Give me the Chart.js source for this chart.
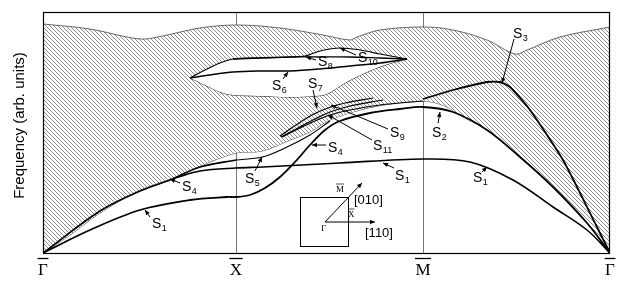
<!DOCTYPE html>
<html><head><meta charset="utf-8">
<script src="https://cdn.jsdelivr.net/npm/chart.js@4.4.1/dist/chart.umd.min.js"></script>
<style>html,body{margin:0;padding:0;background:#fff}#wrap{width:629px;height:287px;position:relative}</style>
</head><body><div id="wrap"><canvas id="c"></canvas></div>
<script>
// High-symmetry points along the k-path
const kPoints = [0, 193, 380, 567];
const kLabels = ['Γ', 'X', 'M', 'Γ'];
const yTitle = 'Frequency (arb. units)';

// Bulk continuum (hatched) boundaries
const bulkTopK = [0, 47, 84, 102, 124, 157, 193, 237, 280, 307, 314, 337, 380, 410, 444, 472, 484, 517, 567];
const bulkTopF = [229, 224, 216, 214, 218, 225, 228, 225, 218, 213, 216, 223, 226, 223, 213, 199, 203, 216, 226];
const bulkLowK = [0, 27, 57, 97, 127, 157, 193, 219, 247, 267, 287, 317, 347, 380, 402, 420, 444, 477, 510, 544, 567];
const bulkLowF = [0, 18, 40, 63, 74, 87, 100, 102, 113, 121, 133, 143, 149, 152, 147, 136, 123, 96, 66, 30, 0];

// Gap inside the continuum (white lens)
const gapTopK = [147, 162, 177, 190, 217, 247, 262, 277, 297, 317, 337, 364];
const gapTopF = [175, 183, 190, 194, 195, 196, 197, 202, 205, 203, 199, 194];
const gapLowK = [147, 162, 177, 190, 217, 247, 272, 284, 302, 322, 342, 364];
const gapLowF = [175, 168, 161, 158, 157, 156, 157, 159, 170, 180, 188, 194];

// Surface modes
const s6K = [147, 167, 190, 217, 247, 277, 307, 337, 364];
const s6F = [175, 178, 181, 182, 182, 184, 187, 190, 194];
const s8K = [190, 247, 277, 307, 337, 364];
const s8F = [194, 196, 196, 196, 195, 194];
const s7K = [237, 253, 269, 285, 302, 330];
const s7F = [117, 128, 138, 145, 150, 155];
const s9K = [238, 255, 272, 287, 307, 340];
const s9F = [116, 125, 134, 141, 147, 153];
const s11K = [239, 257, 272, 287, 307, 337, 380];
const s11F = [116, 125, 132, 138, 143, 148, 152];
const s4K = [0, 57, 97, 127, 157, 193];
const s4F = [0, 42, 62, 73, 86, 93];
const s5K = [193, 219, 242, 267, 287];
const s5F = [93, 96, 105, 118, 132];
const s1K = [132, 157, 193, 220, 297, 380, 427, 470, 510, 544, 567];
const s1F = [75, 82, 85, 86, 90, 94, 91, 73, 46, 23, 0];
const lowK = [0, 47, 97, 147, 184, 193, 207, 222, 237, 252, 267, 282, 297, 327, 357, 380, 410, 444, 477, 510, 544, 567];
const lowF = [0, 23, 43, 53, 56, 56, 58, 65, 76, 91, 108, 123, 132, 140, 144, 146, 141, 123, 96, 66, 30, 0];
const s3K = [380, 410, 444, 457, 467, 487, 520, 554, 567];
const s3F = [154, 163, 171, 171, 166, 143, 93, 26, 0];

// Mode labels: subscript, text (k, f), arrow tail (k, f), arrow tip (k, f)
const modeLabels = [
  ['1', 109, 25, 107, 36, 102, 43],
  ['4', 139, 62, 137, 70, 127, 74],
  ['5', 202, 70, 212, 82, 219, 96],
  ['4', 285, 101, 283, 108, 269, 108],
  ['1', 352, 73, 351, 85, 340, 90],
  ['6', 229, 163, 240, 174, 245, 181],
  ['7', 265, 165, 270, 163, 274, 145],
  ['8', 275, 187, 273, 193, 263, 196],
  ['10', 315, 191, 313, 198, 297, 205],
  ['9', 347, 116, 345, 124, 288, 148],
  ['11', 330, 103, 329, 113, 285, 138],
  ['3', 470, 215, 471, 214, 459, 170],
  ['2', 389, 116, 395, 130, 397, 141],
  ['1', 430, 71, 439, 81, 444, 86]
];

// Inset (surface Brillouin zone sketch), in chart coordinates
const insetBox = [257, 305, 7, 56];
const insetOrigin = [282, 31];
const insetDir110 = [332, 31];
const insetDir010 = [319, 70];

function xy(ks, fs) { return ks.map((k, i) => ({x: k, y: fs[i]})); }

function hatchPattern() {
  const n = 4;
  const c = document.createElement('canvas');
  c.width = n; c.height = n;
  const g = c.getContext('2d');
  const img = g.createImageData(n, n);
  for (let i = 0; i < n * n; i++) { img.data[i*4] = img.data[i*4+1] = img.data[i*4+2] = 255; img.data[i*4+3] = 255; }
  for (let i = 0; i < n; i++) {
    const p = (i * n + i) * 4;
    img.data[p] = img.data[p+1] = img.data[p+2] = 140;
  }
  g.putImageData(img, 0, 0);
  return g.createPattern(c, 'repeat');
}

const line = (data, w, extra) => Object.assign({
  data, borderColor: '#000', borderWidth: w, pointRadius: 0, fill: false, tension: 0.35
}, extra || {});

const datasets = [
  line(xy(lowK, lowF), 1.8),                      // 0 S1(Γ-X) / S4(X-M) / S2(M-Γ)
  line(xy(s1K, s1F), 1.6),                        // 1 S1
  line(xy(s4K, s4F), 1.7),                        // 2 S4
  line(xy(s5K, s5F), 1.1),                        // 3 S5
  line(xy(s3K, s3F), 1.8, {tension: 0.2}),        // 4 S3
  line(xy(s7K, s7F), 1.2),                        // 5 S7
  line(xy(s9K, s9F), 1.2),                        // 6 S9
  line(xy(s11K, s11F), 1.2),                      // 7 S11
  line(xy(s6K, s6F), 1.5),                        // 8 S6
  line(xy(s8K, s8F), 1.3),                        // 9 S8
  line(xy(gapTopK, gapTopF), 1.1, {fill: 11, backgroundColor: '#fff'}), // 10 gap top (S10)
  line(xy(gapLowK, gapLowF), 0.9),                // 11 gap bottom
  line(xy(bulkTopK, bulkTopF), 0.8, {fill: 13, backgroundColor: hatchPattern(), borderColor: '#444'}), // 12
  line(xy(bulkLowK, bulkLowF), 0.8, {borderColor: '#222'}) // 13
];

function arrow(ctx, x1, y1, x2, y2) {
  ctx.beginPath(); ctx.moveTo(x1, y1); ctx.lineTo(x2, y2); ctx.stroke();
  const a = Math.atan2(y2 - y1, x2 - x1), L = 5, W = 2.2;
  ctx.beginPath();
  ctx.moveTo(x2, y2);
  ctx.lineTo(x2 - L * Math.cos(a) + W * Math.sin(a), y2 - L * Math.sin(a) - W * Math.cos(a));
  ctx.lineTo(x2 - L * Math.cos(a) - W * Math.sin(a), y2 - L * Math.sin(a) + W * Math.cos(a));
  ctx.closePath(); ctx.fill();
}

const overlay = {
  id: 'overlay',
  afterDraw(chart) {
    const {ctx, chartArea: a, scales: {x, y}} = chart;
    const X = v => x.getPixelForValue(v), Y = v => y.getPixelForValue(v);
    ctx.save();
    // frame
    ctx.strokeStyle = '#000'; ctx.lineWidth = 1.2;
    ctx.strokeRect(Math.round(a.left) + 0.5, Math.round(a.top) + 0.5, Math.round(a.right - a.left) - 1, Math.round(a.bottom - a.top));
    // y title
    ctx.save();
    ctx.translate(20, (a.top + a.bottom) / 2 - 7);
    ctx.rotate(-Math.PI / 2);
    ctx.font = '15px "Liberation Sans"';
    ctx.fillStyle = '#000'; ctx.textAlign = 'center'; ctx.textBaseline = 'middle';
    ctx.fillText(yTitle, 0, 0);
    ctx.restore();
    // overlines on tick labels
    ctx.font = '17px "Liberation Serif"';
    ctx.lineWidth = 1.3;
    x.ticks.forEach((t, i) => {
      const px = X(t.value), w = ctx.measureText(kLabels[i]).width;
      ctx.beginPath(); ctx.moveTo(px - w / 2 - 0.5, a.bottom + 5.5); ctx.lineTo(px + w / 2 + 0.5, a.bottom + 5.5); ctx.stroke();
    });
    // mode labels
    ctx.fillStyle = '#000'; ctx.strokeStyle = '#000'; ctx.lineWidth = 1;
    modeLabels.forEach(([sub, lk, lf, tk, tf, hk, hf]) => {
      ctx.font = '14px "Liberation Sans"';
      ctx.textBaseline = 'alphabetic'; ctx.textAlign = 'left';
      const px = X(lk), py = Y(lf);
      ctx.fillText('S', px, py);
      const w = ctx.measureText('S').width;
      ctx.font = '9px "Liberation Sans"';
      ctx.fillText(sub, px + w + 0.5, py + 3);
      arrow(ctx, X(tk), Y(tf), X(hk), Y(hf));
    });
    // inset
    ctx.lineWidth = 1;
    const bx0 = X(insetBox[0]), bx1 = X(insetBox[1]), by0 = Y(insetBox[3]), by1 = Y(insetBox[2]);
    ctx.strokeRect(Math.round(bx0) + 0.5, Math.round(by0) + 0.5, Math.round(bx1 - bx0), Math.round(by1 - by0));
    const ox = X(insetOrigin[0]), oy = Y(insetOrigin[1]);
    arrow(ctx, ox, oy, X(insetDir110[0]), Y(insetDir110[1]));
    arrow(ctx, ox, oy, X(insetDir010[0]), Y(insetDir010[1]));
    ctx.font = '13px "Liberation Sans"';
    ctx.fillText('[010]', X(311), Y(49));
    ctx.fillText('[110]', X(322), Y(16));
    ctx.font = '9px "Liberation Serif"';
    ctx.fillText('Γ', X(278), Y(22));
    ctx.fillText('X', X(305), Y(36));
    ctx.fillText('M', X(293), Y(61));
    const wx = ctx.measureText('X').width, wm = ctx.measureText('M').width;
    ctx.lineWidth = 0.7;
    ctx.beginPath(); ctx.moveTo(X(305), Y(36) - 8); ctx.lineTo(X(305) + wx, Y(36) - 8); ctx.stroke();
    ctx.beginPath(); ctx.moveTo(X(293), Y(61) - 8); ctx.lineTo(X(293) + wm, Y(61) - 8); ctx.stroke();
    ctx.restore();
  }
};

new Chart(document.getElementById('c'), {
  type: 'line',
  data: {datasets},
  options: {
    responsive: true, maintainAspectRatio: false, animation: false,
    layout: {padding: {top: 12, right: 19, left: 0, bottom: 0}},
    plugins: {legend: {display: false}, tooltip: {enabled: false}, filler: {propagate: false}},
    scales: {
      x: {
        type: 'linear', min: 0, max: 567,
        afterBuildTicks: s => { s.ticks = kPoints.map(v => ({value: v})); },
        afterFit: s => { s.height = 34; },
        ticks: {callback: (v) => kLabels[kPoints.indexOf(v)], color: '#000', padding: 7, maxRotation: 0,
                font: {family: 'Liberation Serif', size: 17}},
        grid: {drawTicks: false, color: c => (c.index === 1 || c.index === 2) ? '#777' : 'rgba(0,0,0,0)', lineWidth: 1},
        border: {display: false}
      },
      y: {
        min: 0, max: 241,
        afterFit: s => { s.width = 43; },
        ticks: {display: false},
        grid: {display: false, drawTicks: false},
        border: {display: false}
      }
    }
  },
  plugins: [overlay]
});
</script></body></html>
